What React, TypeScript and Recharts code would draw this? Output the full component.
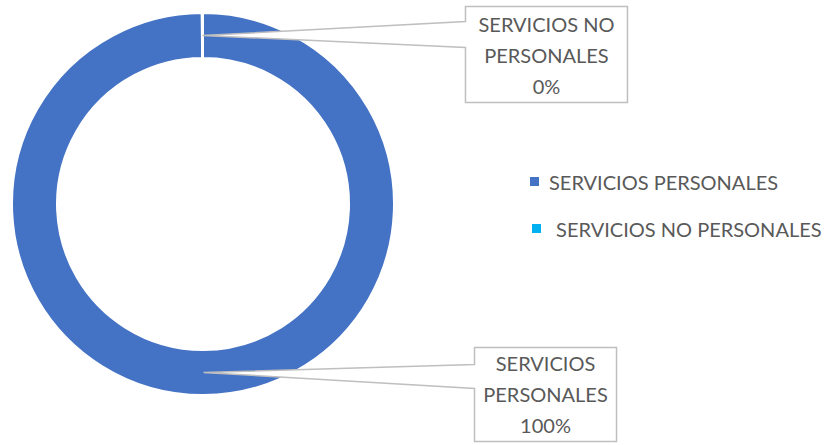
import React from 'react';
import { PieChart, Pie, Cell, Legend } from 'recharts';

// budget split by expense group
const categories = ['SERVICIOS PERSONALES', 'SERVICIOS NO PERSONALES'];
const amounts = [99.9, 0.1];
const legendLabels = ['SERVICIOS PERSONALES', '\u00a0SERVICIOS NO PERSONALES'];
const labelLines = [['SERVICIOS', 'PERSONALES'], ['SERVICIOS NO', 'PERSONALES']];

const COLORS = ['#4472C4', '#00B0F0'];
const TEXT = '#595959';
const FONT = 'Lato, "Liberation Sans", sans-serif';

// callout box placement relative to the leader tip
const callouts = [
  { dx: 271, dy: -25, w: 142, h: 94, a1: 17, a2: 41 },
  { dx: 263, dy: -29, w: 162, h: 96, a1: 15, a2: 41 },
];

if (typeof document !== 'undefined') document.body.style.margin = '0';

const data = categories.map((name, i) => ({ name, value: amounts[i] }));
const RAD = Math.PI / 180;

function Callout(props: any) {
  const { cx, cy, midAngle, innerRadius, outerRadius, percent, index } = props;
  const r = (innerRadius + outerRadius) / 2;
  const tx = cx + r * Math.cos(-midAngle * RAD);
  const ty = cy + r * Math.sin(-midAngle * RAD);
  const c = callouts[index];
  const bx = tx + c.dx;
  const by = ty + c.dy;
  const d = `M${bx},${by} H${bx + c.w} V${by + c.h} H${bx} V${by + c.a2} L${tx},${ty} L${bx},${by + c.a1} Z`;
  const lines = [...labelLines[index], `${Math.round(percent * 100)}%`];
  const mid = bx + c.w / 2;
  const step = 31;
  const start = by + c.h / 2 - step;
  return (
    <g>
      <path d={d} fill="#fff" stroke="#BFBFBF" strokeWidth={1.5} />
      {lines.map((t, i) => (
        <text
          key={i}
          x={mid}
          y={start + i * step}
          textAnchor="middle"
          dominantBaseline="central"
          fill={TEXT}
          fontSize={20}
          fontFamily={FONT}
        >
          {t}
        </text>
      ))}
    </g>
  );
}

function LegendBox() {
  return (
    <div style={{ fontFamily: FONT, fontSize: 20, color: TEXT }}>
      {legendLabels.map((t, i) => (
        <div key={i} style={{ display: 'flex', alignItems: 'center', height: 47, whiteSpace: 'pre' }}>
          <span style={{ width: 9, height: 9, background: COLORS[i], marginRight: 10, marginLeft: i === 1 ? 2 : 0 }} />
          <span>{t}</span>
        </div>
      ))}
    </div>
  );
}

export default function App() {
  return (
    <PieChart width={829} height={445} margin={{ top: 0, right: 0, bottom: 0, left: 0 }}>
      <Pie
        data={data}
        dataKey="value"
        nameKey="name"
        cx={203}
        cy={204}
        innerRadius={146}
        outerRadius={191}
        startAngle={90}
        endAngle={-270}
        stroke="#fff"
        strokeWidth={2}
        label={Callout}
        labelLine={false}
        isAnimationActive={false}
      >
        {data.map((d, i) => (
          <Cell key={d.name} fill={COLORS[i]} />
        ))}
      </Pie>
      <Legend
        content={<LegendBox />}
        wrapperStyle={{ left: 530, top: 158, width: 299 }}
        layout="vertical"
      />
    </PieChart>
  );
}
